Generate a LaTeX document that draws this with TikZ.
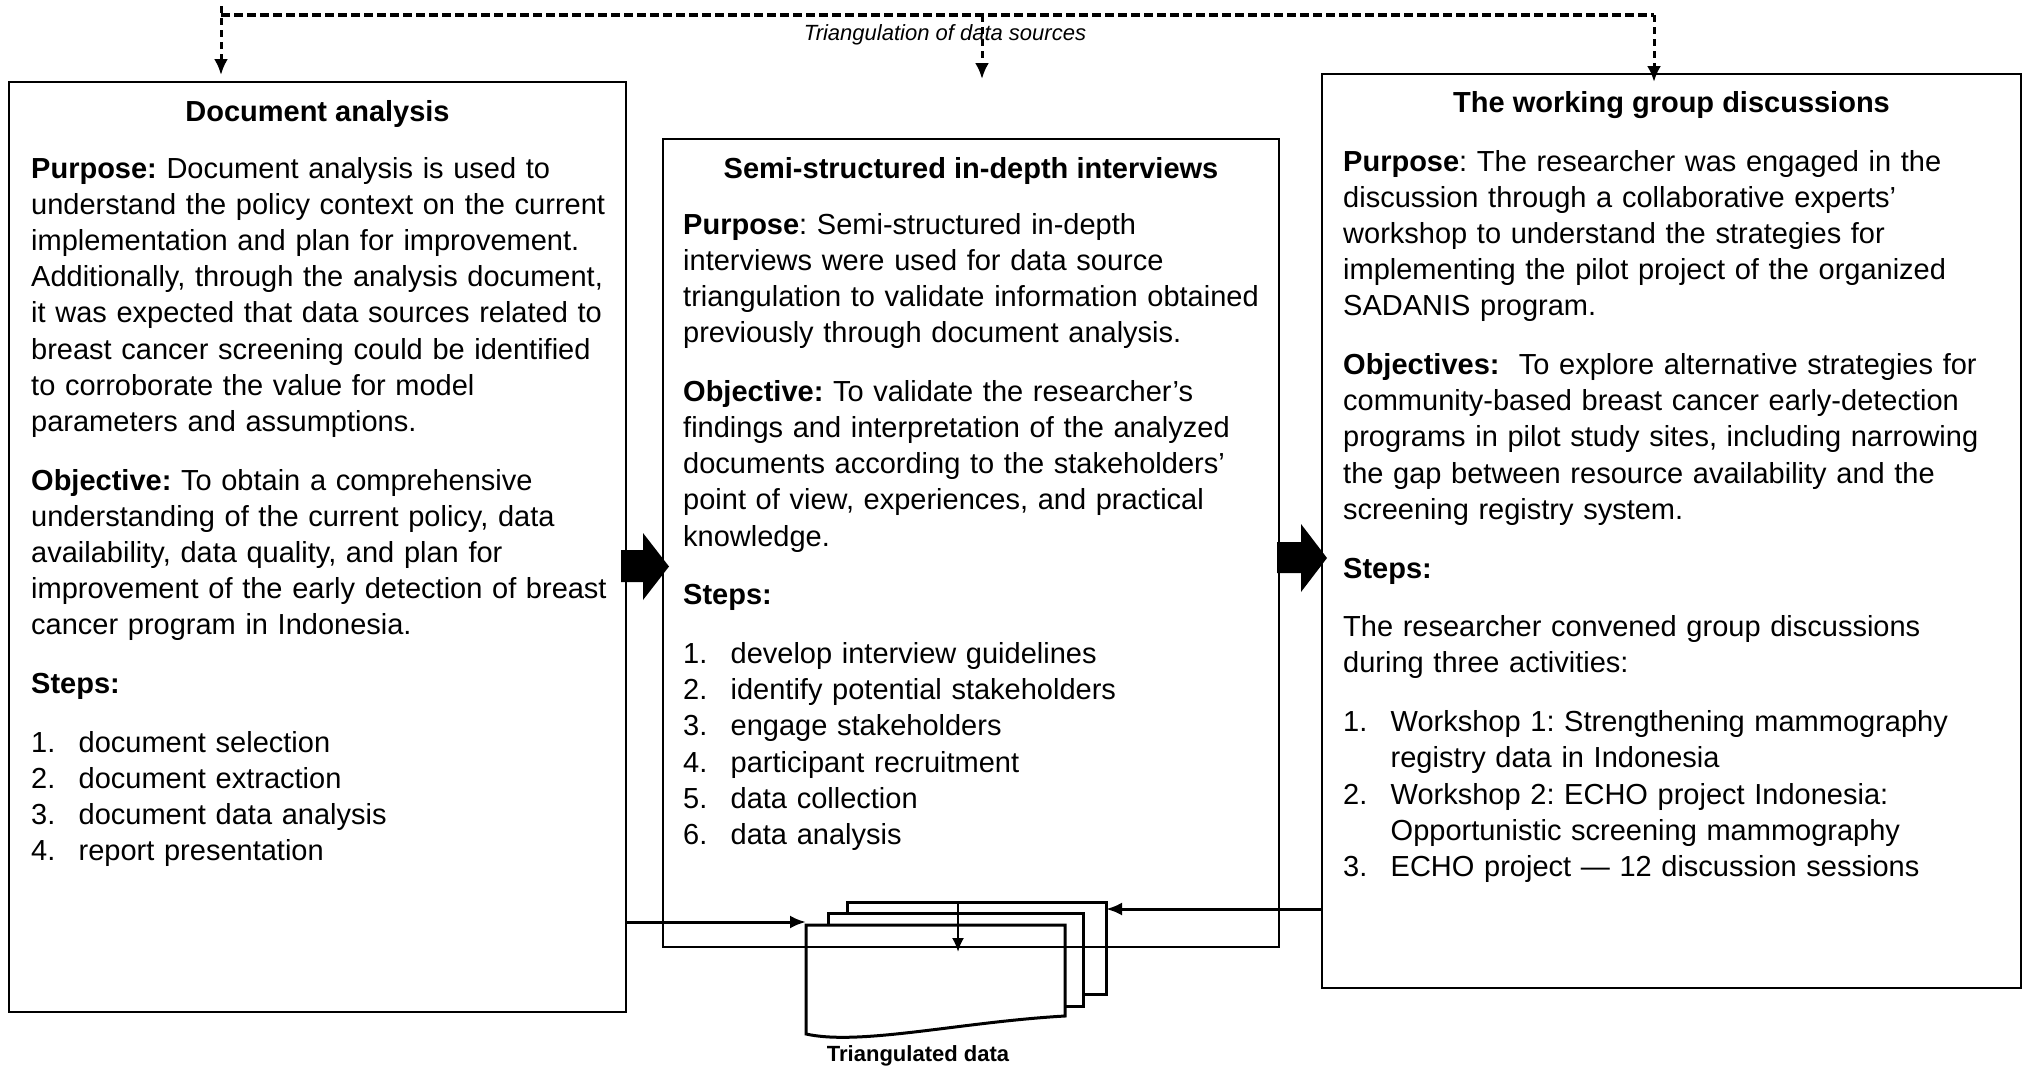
\documentclass[tikz,border=0pt]{standalone}
\usepackage{fontspec}
\setmainfont{Liberation Sans}
\usetikzlibrary{arrows.meta}

% number column of the step lists
\newcommand\listno[1]{\makebox[47.5pt][l]{#1}}
\newcommand\pgap{\\[22.5pt]}

\begin{document}
\frenchspacing
\begin{tikzpicture}[x=1pt,y=-1pt,
  box/.style={draw, line width=2.5pt, outer sep=0pt, inner sep=0pt, anchor=north west},
  body/.style={font=\fontsize{29}{36.2}\selectfont, text width=690pt, align=left,
    inner sep=0pt, anchor=base west},
  title/.style={font=\fontsize{29}{36.2}\selectfont\bfseries, inner sep=0pt, anchor=base},
  dashh/.style={line width=4pt, dash pattern=on 9pt off 4pt},
  dashv/.style={line width=3pt, dash pattern=on 7pt off 5pt, -{Latex[length=16pt,width=14pt]}},
  docline/.style={line width=3pt, line join=miter},
  feed/.style={line width=3pt, -{Latex[length=16pt,width=13pt]}},
  blockarrow/.style={fill=black}
]
\useasboundingbox[fill=white] (0,0) rectangle (2026,1068);

% ---- three method boxes ----
\node[box, minimum width=617pt, minimum height=930pt] (lbox) at (9,82) {};
\node[box, minimum width=616pt, minimum height=808pt] (mbox) at (663,139) {};
\node[box, minimum width=699pt, minimum height=914pt] (rbox) at (1322,74) {};

% ---- left box: document analysis ----
\node[title] (ltitle) at (lbox.north |- 0,121) {Document analysis};
\node[body] (ltext) at (31,178) {%
\textbf{Purpose:} Document analysis is used to\\
understand the policy context on the current\\
implementation and plan for improvement.\\
Additionally, through the analysis document,\\
it was expected that data sources related to\\
breast cancer screening could be identified\\
to corroborate the value for model\\
parameters and assumptions.\pgap
\textbf{Objective:} To obtain a comprehensive\\
understanding of the current policy, data\\
availability, data quality, and plan for\\
improvement of the early detection of breast\\
cancer program in Indonesia.\pgap
\textbf{Steps:}\pgap
\listno{1.}document selection\\
\listno{2.}document extraction\\
\listno{3.}document data analysis\\
\listno{4.}report presentation};

% ---- middle box: interviews ----
\node[title] (mtitle) at (mbox.north |- 0,178) {Semi-structured in-depth interviews};
\node[body] (mtext) at (683,234) {%
\textbf{Purpose}: Semi-structured in-depth\\
interviews were used for data source\\
triangulation to validate information obtained\\
previously through document analysis.\pgap
\textbf{Objective:} To validate the researcher’s\\
findings and interpretation of the analyzed\\
documents according to the stakeholders’\\
point of view, experiences, and practical\\
knowledge.\pgap
\textbf{Steps:}\pgap
\listno{1.}develop interview guidelines\\
\listno{2.}identify potential stakeholders\\
\listno{3.}engage stakeholders\\
\listno{4.}participant recruitment\\
\listno{5.}data collection\\
\listno{6.}data analysis};

% ---- right box: working group discussions ----
\node[title] (rtitle) at (rbox.north |- 0,112) {The working group discussions};
\node[body] (rtext) at (1343,171) {%
\textbf{Purpose}: The researcher was engaged in the\\
discussion through a collaborative experts’\\
workshop to understand the strategies for\\
implementing the pilot project of the organized\\
SADANIS program.\pgap
\textbf{Objectives:}\ \ To explore alternative strategies for\\
community-based breast cancer early-detection\\
programs in pilot study sites, including narrowing\\
the gap between resource availability and the\\
screening registry system.\pgap
\textbf{Steps:}\pgap
The researcher convened group discussions\\
during three activities:\pgap
\listno{1.}Workshop 1: Strengthening mammography\\
\hspace*{47.5pt}registry data in Indonesia\\
\listno{2.}Workshop 2: ECHO project Indonesia:\\
\hspace*{47.5pt}Opportunistic screening mammography\\
\listno{3.}ECHO project — 12 discussion sessions};

% ---- block arrows between the boxes ----
\fill[blockarrow] (621,550) -- (643,550) -- (643,533) -- (669,566.5) -- (643,600)
  -- (643,582) -- (621,582) -- cycle;
\fill[blockarrow] (1277,542) -- (1301,542) -- (1301,524) -- (1327,558) -- (1301,592)
  -- (1301,573) -- (1277,573) -- cycle;

% ---- triangulation of data sources (dashed, top) ----
\coordinate (tL) at (221,15);
\coordinate (tM) at (982,15);
\coordinate (tR) at (1654,15);
\coordinate (tL0) at (221,6);
\coordinate (aL) at (221,75);
\coordinate (aM) at (982,79);
\coordinate (aR) at (1654,82);
\draw[dashh] (tL) -- (tR);
\draw[dashv] (tL0) -- (aL);
\draw[dashv] (tM) -- (aM);
\draw[dashv] (tR) -- (aR);
\node[font=\fontsize{22}{26}\selectfont\itshape, inner sep=0pt] (trilbl) at (945,35)
  {Triangulation of data sources};

% ---- stacked documents: triangulated data ----
\coordinate (dA) at (806,922);
\coordinate (dC) at (1106,909);
\coordinate (dTop) at (958,902);
\coordinate (dIn) at (958,952);
\draw[docline] (847,913) -- (847,902) -- (1106,902) -- (1106,994) -- (1083,994);
\draw[docline] (828,925) -- (828,913) -- (1083,913) -- (1083,1006) -- (1065,1006);
\draw[docline] (806,1034) -- (806,925) -- (1065,925) -- (1065,1016)
  .. controls (960,1022) and (860,1046) .. (806,1034) -- cycle;
\node[font=\fontsize{22}{26}\selectfont\bfseries, inner sep=0pt, anchor=base] (stlbl)
  at (918,1061) {Triangulated data};

% ---- flows into the stack ----
\draw[feed] (lbox.east |- dA) -- (dA);
\draw[feed] (rbox.west |- dC) -- (dC);
\draw[line width=2.2pt, -{Latex[length=14pt,width=12pt]}] (dTop) -- (dIn);

\end{tikzpicture}
\end{document}
